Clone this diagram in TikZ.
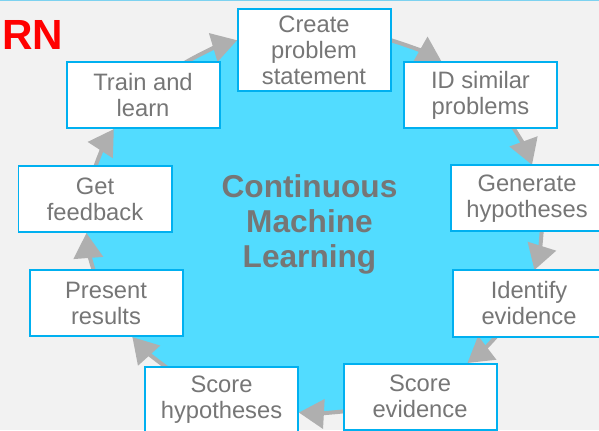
\documentclass[tikz,border=0pt]{standalone}
\usepackage{fontspec}
\setmainfont{Liberation Sans}
\usepackage{tikz}
\usetikzlibrary{arrows.meta,calc}
\definecolor{bgGray}{RGB}{242,242,242}
\definecolor{ringBlue}{RGB}{82,220,255}
\definecolor{boxBlue}{RGB}{0,176,240}
\definecolor{topLine}{RGB}{125,210,240}
\definecolor{txtGray}{RGB}{118,118,118}
\definecolor{arrowGray}{RGB}{175,175,175}

\begin{document}
\begin{tikzpicture}[
  stepbox/.style={draw=boxBlue,line width=0.04cm,fill=white,minimum width=3.06cm,minimum height=1.32cm,inner sep=0pt,align=center,text=txtGray,font=\fontsize{13.5}{14.8}\selectfont},
  flow/.style={draw=arrowGray,line width=0.08cm,-{Triangle[length=0.5cm,width=0.58cm]}}]
\clip (0,0) rectangle (11.98,8.6);
\fill[bgGray] (0,0) rectangle (11.98,8.6);
\draw[topLine,line width=0.03cm] (0,8.59) -- (11.98,8.59);
\node[anchor=base west,inner sep=0pt,text=red,font=\fontsize{24}{26}\selectfont\bfseries] (word) at (0.04,7.6) {RN};

\coordinate (ring) at (6.28,4.18);
\fill[ringBlue] (ring) ellipse[x radius=4.56,y radius=3.84];

\draw[flow] ($(ring)+(71.3:4.56 and 3.84)$) arc[start angle=71.3,end angle=55.9,x radius=4.56,y radius=3.84];
\draw[flow] ($(ring)+(29.6:4.56 and 3.84)$) arc[start angle=29.6,end angle=17.0,x radius=4.56,y radius=3.84];
\draw[flow] ($(ring)+(-2.3:4.56 and 3.84)$) arc[start angle=-2.3,end angle=-14.8,x radius=4.56,y radius=3.84];
\draw[flow] ($(ring)+(-36.2:4.56 and 3.84)$) arc[start angle=-36.2,end angle=-47.7,x radius=4.56,y radius=3.84];
\draw[flow] ($(ring)+(-81.7:4.56 and 3.84)$) arc[start angle=-81.7,end angle=-93.8,x radius=4.56,y radius=3.84];
\draw[flow] ($(ring)+(-129.9:4.56 and 3.84)$) arc[start angle=-129.9,end angle=-142.8,x radius=4.56,y radius=3.84];
\draw[flow] ($(ring)+(-164.5:4.56 and 3.84)$) arc[start angle=-164.5,end angle=-176.4,x radius=4.56,y radius=3.84];
\draw[flow] ($(ring)+(164.0:4.56 and 3.84)$) arc[start angle=164.0,end angle=151.4,x radius=4.56,y radius=3.84];
\draw[flow] ($(ring)+(125.1:4.56 and 3.84)$) arc[start angle=125.1,end angle=109.7,x radius=4.56,y radius=3.84];

\node[stepbox,minimum height=1.64cm] (create) at (6.28,7.59) {Create\\problem\\statement};
\node[stepbox] (idsim) at (9.61,6.69) {ID similar\\problems};
\node[stepbox] (genhyp) at (10.54,4.63) {Generate\\hypotheses};
\node[stepbox] (identev) at (10.58,2.53) {Identify\\evidence};
\node[stepbox] (scoreev) at (8.40,0.67) {Score\\evidence};
\node[stepbox] (scorehyp) at (4.43,0.61) {Score\\hypotheses};
\node[stepbox] (present) at (2.12,2.54) {Present\\results};
\node[stepbox] (feedback) at (1.90,4.62) {Get\\feedback};
\node[stepbox] (train) at (2.86,6.69) {Train and\\learn};

\node[align=center,text=txtGray,font=\fontsize{18}{19.9}\selectfont\bfseries] (title) at (6.19,4.12) {Continuous\\Machine\\Learning};
\end{tikzpicture}
\end{document}
